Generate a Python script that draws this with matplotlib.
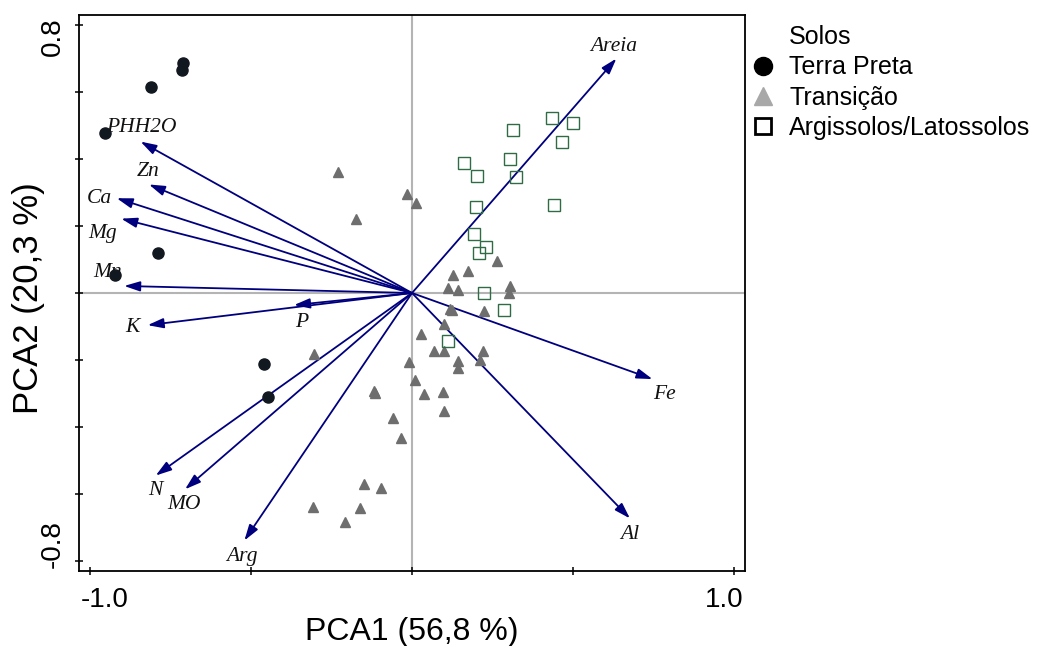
import numpy as np
import matplotlib
matplotlib.use("Agg")
import matplotlib.pyplot as plt
from matplotlib.lines import Line2D

# Pontos (escores) por tipo de solo
tp_x = [-0.711, -0.712, -0.809, -0.953, -0.787, -0.921, -0.458, -0.446]
tp_y = [0.687, 0.665, 0.614, 0.479, 0.119, 0.055, -0.213, -0.311]

tr_x = [-0.230, -0.016, 0.012, -0.175, 0.263, 0.173, 0.126, 0.113, 0.144,
        0.303, 0.301, 0.118, 0.124, 0.224, 0.100, 0.027, -0.303, 0.069,
        0.098, 0.220, 0.142, 0.211, 0.142, -0.008, 0.010, -0.119, -0.115,
        0.038, 0.097, 0.098, -0.060, -0.033, -0.149, -0.095, -0.307,
        -0.160, -0.207]
tr_y = [0.362, 0.296, 0.270, 0.220, 0.096, 0.065, 0.055, 0.016, 0.008,
        0.021, 0.001, -0.047, -0.051, -0.055, -0.093, -0.122, -0.182, -0.174,
        -0.174, -0.172, -0.204, -0.200, -0.225, -0.205, -0.259, -0.293, -0.299,
        -0.302, -0.296, -0.352, -0.372, -0.432, -0.571, -0.581, -0.640,
        -0.641, -0.684]

al_x = [0.433, 0.499, 0.312, 0.465, 0.162, 0.304, 0.202, 0.322, 0.198,
        0.441, 0.192, 0.229, 0.209, 0.224, 0.286, 0.113]
al_y = [0.523, 0.507, 0.487, 0.450, 0.387, 0.400, 0.350, 0.347, 0.258,
        0.263, 0.175, 0.138, 0.120, 0.001, -0.051, -0.142]

# Vetores das variaveis
var_names = ['Areia', 'PHH2O', 'Zn', 'Ca', 'Mg', 'Mn', 'P', 'K', 'N', 'MO', 'Arg', 'Fe', 'Al']
var_x = [0.634, -0.842, -0.816, -0.916, -0.902, -0.893, -0.366, -0.820, -0.795, -0.704, -0.520, 0.746, 0.676]
var_y = [0.700, 0.452, 0.324, 0.283, 0.222, 0.021, -0.036, -0.096, -0.545, -0.586, -0.739, -0.257, -0.673]

# deslocamento dos rotulos em pixels (dx, dy) a partir da ponta da seta
lab_off = {'Areia': (-3, 12), 'PHH2O': (1, 14), 'Zn': (-1, 13), 'Ca': (-17, 0),
           'Mg': (-19, -15), 'Mn': (-17, 13), 'P': (8, -17), 'K': (-15, -2),
           'N': (0, -15), 'MO': (-1, -15), 'Arg': (-2, -16), 'Fe': (12, -15),
           'Al': (0, -16)}

arrow_col = '#00007f'

fig = plt.figure(figsize=(10.49, 6.46), dpi=100)
ax = fig.add_axes([79 / 1049, 1 - 571 / 646, 666 / 1049, 556 / 646])
ax.set_xlim(-1.033, 1.033)
ax.set_ylim(-0.83, 0.83)

ax.axhline(0, color='#b4b4b4', lw=1.5, zorder=1)
ax.axvline(0, color='#b4b4b4', lw=1.5, zorder=1)

for name, x, y in zip(var_names, var_x, var_y):
    ax.annotate('', xy=(x, y), xytext=(0, 0),
                arrowprops=dict(arrowstyle='-|>,head_length=0.95,head_width=0.3',
                                color=arrow_col, lw=1.3, shrinkA=0, shrinkB=0,
                                mutation_scale=10), zorder=3)
    dx, dy = lab_off[name]
    ax.annotate(name, xy=(x, y), xytext=(dx, dy), textcoords='offset pixels',
                ha='center', va='center', fontsize=15.5, style='italic',
                family='Liberation Serif', color='#111111', zorder=4)

ax.plot(tr_x, tr_y, linestyle='none', marker='^', ms=7, color='#6e6e6e', zorder=5)
ax.plot(al_x, al_y, linestyle='none', marker='s', ms=8.2, mfc='none',
        mec='#2f6b45', mew=1.0, zorder=5)
ax.plot(tp_x, tp_y, linestyle='none', marker='o', ms=8, color='#121820', zorder=6)

ax.set_xticks([-1.0, -0.5, 0, 0.5, 1.0])
ax.set_yticks([-0.8, -0.6, -0.4, -0.2, 0, 0.2, 0.4, 0.6, 0.8])
ax.set_xticklabels([])
ax.set_yticklabels([])
ax.tick_params(direction='inout', length=6, width=1.1, color='black')
for sp in ax.spines.values():
    sp.set_linewidth(1.3)

tick_font = dict(fontsize=20, family='Liberation Sans')
ax.annotate('-1.0', xy=(-1.0, 0), xycoords=('data', 'axes fraction'),
            xytext=(15, -29), textcoords='offset pixels', ha='center', va='center', **tick_font)
ax.annotate('1.0', xy=(1.0, 0), xycoords=('data', 'axes fraction'),
            xytext=(-10, -29), textcoords='offset pixels', ha='center', va='center', **tick_font)
ax.annotate('0.8', xy=(0, 0.8), xycoords=('axes fraction', 'data'),
            xytext=(-26, -12), textcoords='offset pixels', ha='center', va='center',
            rotation=90, **tick_font)
ax.annotate('-0.8', xy=(0, -0.8), xycoords=('axes fraction', 'data'),
            xytext=(-26, 17), textcoords='offset pixels', ha='center', va='center',
            rotation=90, **tick_font)

fig.text(412 / 1049, 1 - 632 / 646, 'PCA1 (56,8 %)', ha='center', va='center',
         fontsize=23, family='Liberation Sans')
fig.text(29 / 1049, 1 - 298 / 646, 'PCA2 (20,3 %)', ha='center', va='center',
         fontsize=25, family='Liberation Sans', rotation=90)

handles = [Line2D([], [], linestyle='none'),
           Line2D([], [], linestyle='none', marker='o', ms=13, color='black'),
           Line2D([], [], linestyle='none', marker='^', ms=13, color='#a8a8a8'),
           Line2D([], [], linestyle='none', marker='s', ms=11.5, mfc='none', mec='black', mew=2)]
labels = ['Solos', 'Terra Preta', 'Transição', 'Argissolos/Latossolos']
fig.legend(handles, labels, loc='upper left', bbox_to_anchor=(748 / 1049, 1 - 25 / 646),
           frameon=False, prop={'family': 'Liberation Sans', 'size': 18},
           handlelength=1.2, handletextpad=0.45, labelspacing=0.25,
           borderpad=0, borderaxespad=0)

fig.savefig('out.png', dpi=100)
